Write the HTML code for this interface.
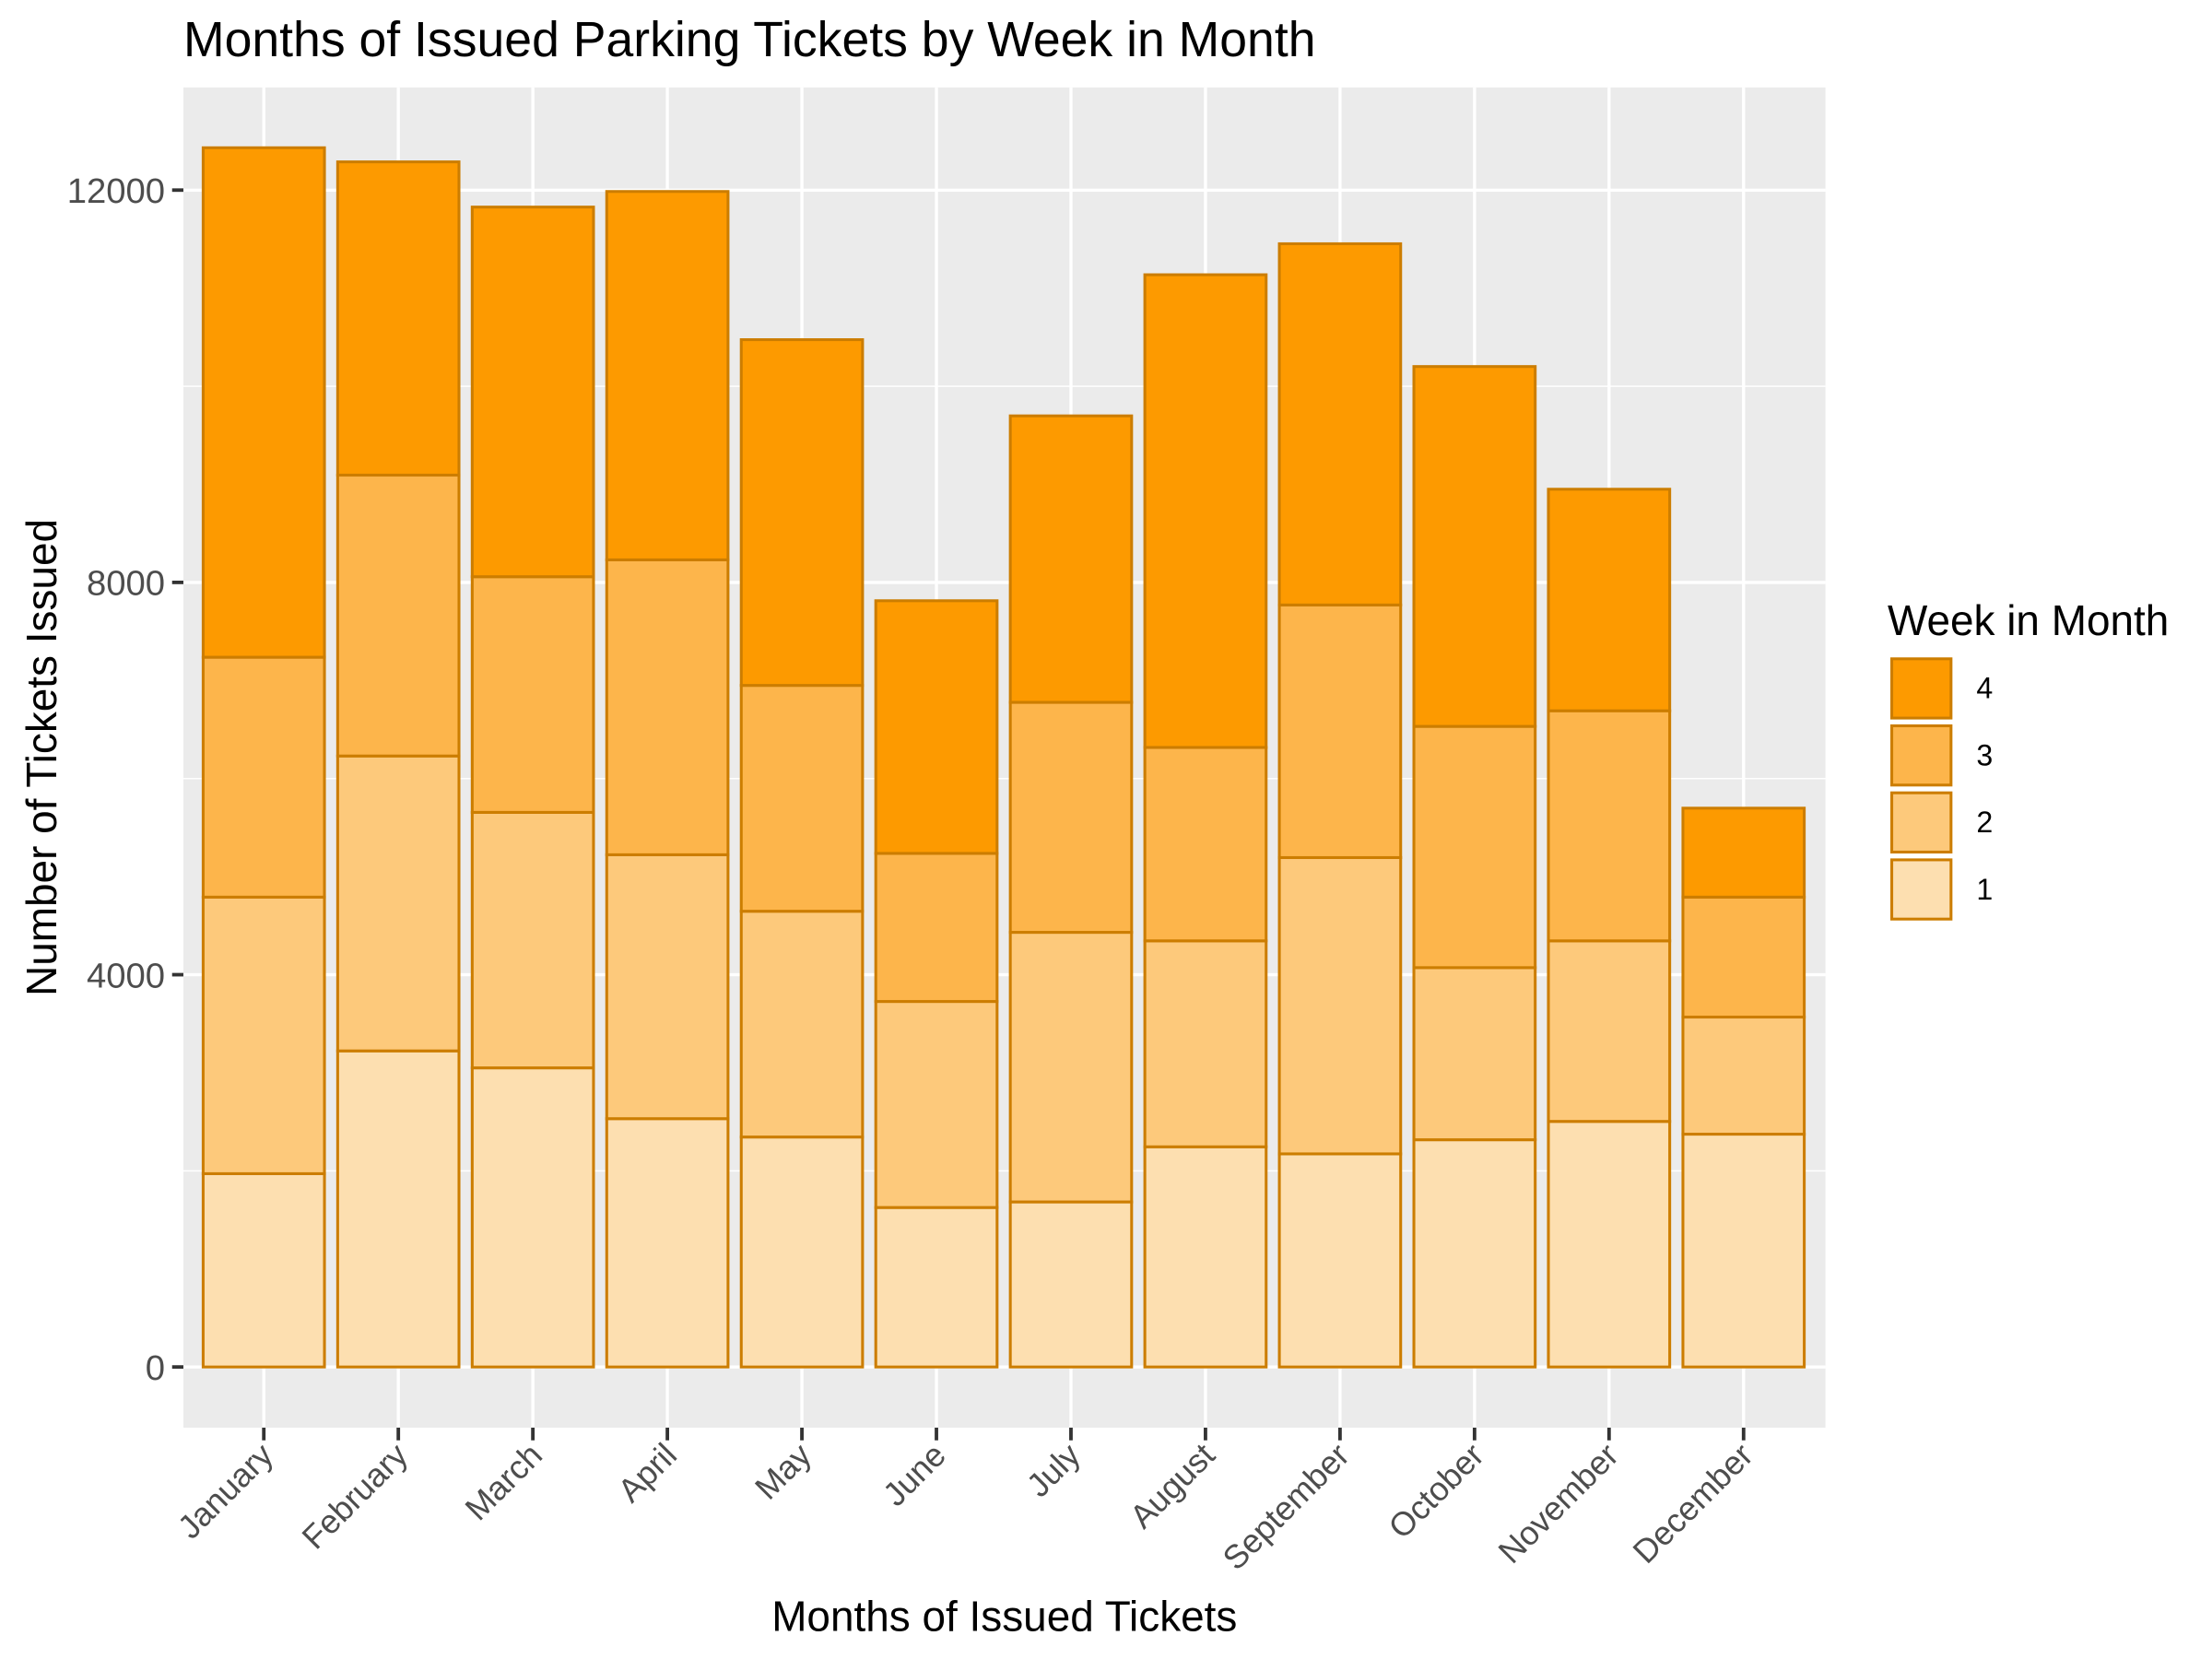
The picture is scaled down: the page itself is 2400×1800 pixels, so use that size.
<!DOCTYPE html>
<html><head><meta charset="utf-8"><style>
html,body{margin:0;padding:0;background:#fff;}
svg{display:block;font-family:"Liberation Sans",Arial,sans-serif;}
</style></head><body>
<svg id="chart" width="2400" height="1800" viewBox="0 0 1568 1176">
<rect width="1568" height="1176" fill="#fff"/>
<text x="130" y="40" font-size="35" fill="#000">Months of Issued Parking Tickets by Week in Month</text>
<rect x="130" y="62" width="1164" height="950" fill="#EBEBEB"/>
<g id="grid"></g>
<g id="bars"></g>
<g id="axes"></g>
<text transform="translate(40,537) rotate(-90)" text-anchor="middle" font-size="30">Number of Tickets Issued</text>
<text x="712" y="1156" text-anchor="middle" font-size="30">Months of Issued Tickets</text>
<g id="legend"></g>
</svg>
<script>
const months=["January","February","March","April","May","June","July","August","September","October","November","December"];
const week1=[1971,3223,3050,2532,2345,1626,1683,2245,2173,2317,2504,2374];
const week2=[2820,3007,2605,2691,2302,2101,2749,2100,3021,1755,1841,1194];
const week3=[2446,2864,2403,3007,2303,1510,2345,1972,2576,2460,2346,1223];
const week4=[5195,3194,3769,3756,3525,2576,2921,4820,3683,3669,2259,907];
const yTicks=[0,4000,8000,12000];
const yMinor=[2000,6000,10000];
const weekNames=["1","2","3","4"];
const series=[week1,week2,week3,week4];
const fills=["#FDDFB0","#FDC97B","#FDB54B","#FD9A00"];
const stroke="#CC7D00";
const NS="http://www.w3.org/2000/svg";
function el(t,a,p){const e=document.createElementNS(NS,t);for(const k in a)e.setAttribute(k,a[k]);p.appendChild(e);return e;}
function y(v){return 969-v*0.06952;}
function x(i){return 187+i*95.36;}
const bw=86;
const grid=document.getElementById('grid'),bars=document.getElementById('bars'),axes=document.getElementById('axes'),legend=document.getElementById('legend');
yMinor.forEach(v=>{const l=el('line',{x1:130,x2:1294,y1:y(v),y2:y(v),stroke:'#fff','stroke-width':1},grid);

});
yTicks.forEach(v=>{const l=el('line',{x1:130,x2:1294,y1:y(v),y2:y(v),stroke:'#fff','stroke-width':2.2},grid);


const t=el('line',{x1:122,x2:130,y1:y(v),y2:y(v),stroke:'#333','stroke-width':2.5},axes);


const tx=el('text',{x:117,y:y(v)+9,'text-anchor':'end','font-size':25,fill:'#4d4d4d'},axes);tx.textContent=v;

});
months.forEach((m,i)=>{const g=el('line',{x1:x(i),x2:x(i),y1:62,y2:1012,stroke:'#fff','stroke-width':2.2},grid);


let cum=0;
series.forEach((s,k)=>{const b=cum+s[i];const r=el('rect',{x:x(i)-bw/2,y:y(b),width:bw,height:y(cum)-y(b),fill:fills[k],stroke:stroke,'stroke-width':2},bars);

cum=b;});
const t=el('line',{x1:x(i),x2:x(i),y1:1012,y2:1021,stroke:'#333','stroke-width':2.5},axes);


const tx=el('text',{transform:`translate(${x(i)+8},${1033}) rotate(-45)`,'text-anchor':'end','font-size':23.5,fill:'#4d4d4d'},axes);tx.textContent=m;

});
const lt=el('text',{x:1338,y:450,'font-size':30},legend);lt.textContent="Week in Month";


[3,2,1,0].forEach((k,j)=>{const yy=467+j*47.5;
const r=el('rect',{x:1341,y:yy,width:42,height:42,fill:fills[k],stroke:stroke,'stroke-width':2},legend);


const t=el('text',{x:1401,y:yy+28,'font-size':21},legend);t.textContent=weekNames[k];

});
</script>
</body></html>
